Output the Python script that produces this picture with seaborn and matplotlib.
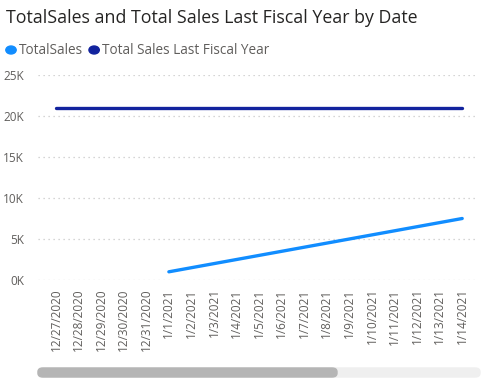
import pandas as pd
import matplotlib.pyplot as plt
import seaborn as sns
from matplotlib.patches import FancyBboxPatch

dates = ["12/27/2020", "12/28/2020", "12/29/2020", "12/30/2020", "12/31/2020",
         "1/1/2021", "1/2/2021", "1/3/2021", "1/4/2021", "1/5/2021", "1/6/2021",
         "1/7/2021", "1/8/2021", "1/9/2021", "1/10/2021", "1/11/2021",
         "1/12/2021", "1/13/2021", "1/14/2021"]
total_sales = [None, None, None, None, None,
               1000, 1500, 2000, 2500, 3000, 3500, 4000, 4500,
               5000, 5500, 6000, 6500, 7000, 7500]
last_fy = [21000] * len(dates)

series_names = ["TotalSales", "Total Sales Last Fiscal Year"]
colors = {"TotalSales": "#118DFF", "Total Sales Last Fiscal Year": "#12239E"}
yticks = [0, 5000, 10000, 15000, 20000, 25000]
ytick_labels = ["0K", "5K", "10K", "15K", "20K", "25K"]

df = pd.DataFrame({
    "pos": list(range(len(dates))) * 2,
    "value": total_sales + last_fy,
    "series": [series_names[0]] * len(dates) + [series_names[1]] * len(dates),
}).dropna()

sns.set_style("white")
plt.rcParams["font.family"] = ["Open Sans", "DejaVu Sans"]

fig = plt.figure(figsize=(4.93, 3.79), dpi=100)
ax = fig.add_axes([38 / 493, 1 - 280 / 379, (478 - 38) / 493, (280 - 75) / 379])

sns.lineplot(data=df, x="pos", y="value", hue="series", palette=colors,
             linewidth=2.4, legend=False, ax=ax, solid_capstyle="round")

ax.set_xlim(-0.8, len(dates) - 1 + 0.7)
ax.set_ylim(0, 25000)
ax.set_yticks(yticks)
ax.set_yticklabels(ytick_labels)
ax.set_xticks(range(len(dates)))
ax.set_xticklabels(dates, rotation=90, va="top")
ax.tick_params(axis="both", length=0, labelsize=8.5, labelcolor="#605E5C")
ax.tick_params(axis="y", pad=10)
ax.tick_params(axis="x", pad=6)
ax.set_xlabel("")
ax.set_ylabel("")
for s in ax.spines.values():
    s.set_visible(False)
ax.yaxis.grid(True, color="#C8C8C8", linestyle=(0, (1, 3)), linewidth=0.9)
ax.xaxis.grid(False)
ax.set_axisbelow(True)

fig.text(6 / 493, 1 - 18 / 379, "TotalSales and Total Sales Last Fiscal Year by Date",
         fontsize=12.8, color="#252423", va="center", ha="left")

# legend
lx = 11
for name in series_names:
    fig.patches.append(plt.Circle((lx / 493, 1 - 50 / 379), 0.0105,
                                  transform=fig.transFigure, color=colors[name],
                                  figure=fig))
    t = fig.text((lx + 8) / 493, 1 - 50 / 379, name, fontsize=9.8,
                 color="#605E5C", va="center", ha="left")
    fig.canvas.draw()
    bb = t.get_window_extent()
    lx = bb.x1 + 11

# scrollbar
fig.patches.append(FancyBboxPatch((38 / 493, 1 - 377 / 379), (480 - 38) / 493, 9 / 379,
                                  boxstyle="round,pad=0,rounding_size=0.01",
                                  transform=fig.transFigure, color="#EFEFEF", figure=fig))
fig.patches.append(FancyBboxPatch((38 / 493, 1 - 377 / 379), (337 - 38) / 493, 9 / 379,
                                  boxstyle="round,pad=0,rounding_size=0.01",
                                  transform=fig.transFigure, color="#B5B5B5", figure=fig))

fig.savefig("out.png", dpi=100)
